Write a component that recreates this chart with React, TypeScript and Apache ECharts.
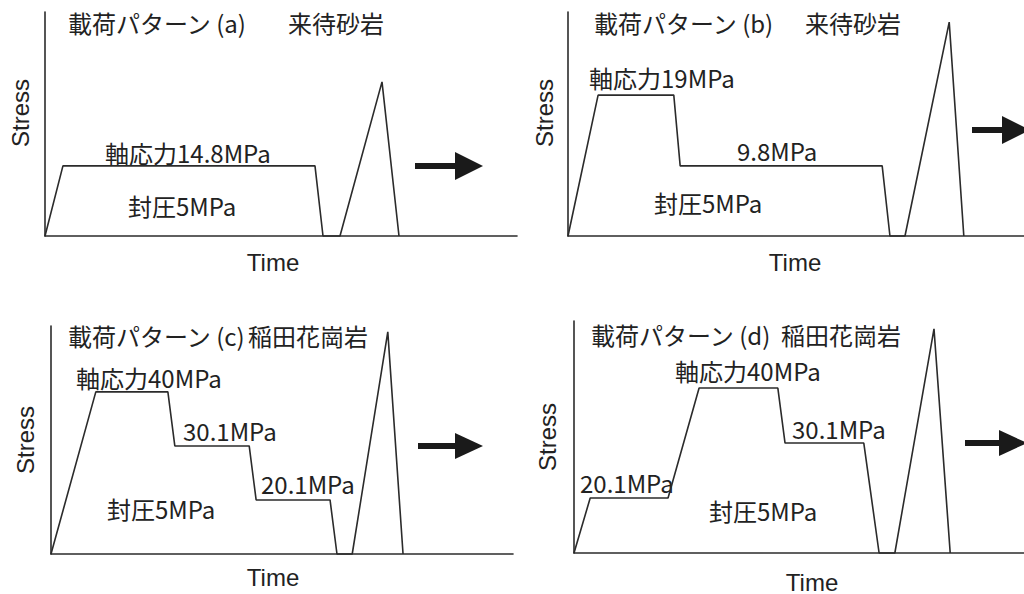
import React, { useEffect, useRef } from "react";
import * as echarts from "echarts";

// Schematic loading patterns (time and stress in relative units, 0-100 of each panel's axis)
const timeA = [0, 3.8, 57.2, 58.9, 62.5, 71.4, 75.0];
const stressA = [0, 31.3, 31.3, 0, 0, 68.8, 0];

const timeB = [0, 6.6, 23.2, 24.6, 68.9, 70.6, 73.9, 83.6, 86.8];
const stressB = [0, 62.9, 62.9, 31.3, 31.3, 0, 0, 95.5, 0];

const timeC = [0, 9.7, 25.3, 26.8, 42.9, 44.4, 60.4, 61.9, 65.2, 72.9, 76.2];
const stressC = [0, 71.1, 71.1, 47.4, 47.4, 23.7, 23.7, 0, 0, 97.4, 0];

const timeD = [0, 3.6, 20.9, 27.8, 45.3, 46.9, 64.4, 67.8, 71.3, 80.0, 83.6];
const stressD = [0, 23.7, 23.7, 71.1, 71.1, 47.4, 47.4, 0, 0, 96.6, 0];

const panelTitles = ["載荷パターン (a)", "載荷パターン (b)", "載荷パターン (c)", "載荷パターン (d)"];
const rockNames = ["来待砂岩", "来待砂岩", "稲田花崗岩", "稲田花崗岩"];
const labelsA = ["軸応力14.8MPa", "封圧5MPa"];
const labelsB = ["軸応力19MPa", "9.8MPa", "封圧5MPa"];
const labelsC = ["軸応力40MPa", "30.1MPa", "20.1MPa", "封圧5MPa"];
const labelsD = ["軸応力40MPa", "30.1MPa", "20.1MPa", "封圧5MPa"];
const axisNameX = "Time";
const axisNameY = "Stress";

const grids = [
  { left: 45, top: 12, width: 472, height: 224 },
  { left: 568, top: 12, width: 456, height: 224 },
  { left: 51, top: 326, width: 462, height: 228 },
  { left: 574, top: 321, width: 450, height: 232 },
];

const LINE = "#2b2b2b";
const JP = '"Noto Sans CJK JP", "Noto Sans", sans-serif';
const LAT = '"Liberation Sans", Arial, sans-serif';

function zip(t: number[], s: number[]) {
  return t.map((v, i) => [v, s[i]]);
}

function jpText(text: string, x: number, y: number, size = 24) {
  return {
    type: "text",
    x,
    y,
    style: { text, fill: "#222", font: `${size}px ${JP}`, align: "left", verticalAlign: "middle" },
  };
}

function latText(text: string, x: number, y: number, rot = 0) {
  return {
    type: "text",
    x,
    y,
    rotation: rot,
    style: { text, fill: "#222", font: `24px ${LAT}`, align: "center", verticalAlign: "middle" },
  };
}

function arrow(x0: number, xh: number, xt: number, y: number, hh: number) {
  return [
    { type: "rect", shape: { x: x0, y: y - 3, width: xh - x0 + 1, height: 6 }, style: { fill: "#1a1a1a" } },
    {
      type: "polygon",
      shape: { points: [[xh, y - hh], [xt, y], [xh, y + hh]] },
      style: { fill: "#1a1a1a" },
    },
  ];
}

export default function App() {
  const ref = useRef<HTMLDivElement>(null);
  useEffect(() => {
    if (!ref.current) return;
    const chart = echarts.init(ref.current, null, { renderer: "svg" });
    const axisCommon = {
      type: "value",
      min: 0,
      max: 100,
      axisLine: { show: true, onZero: false, lineStyle: { color: LINE, width: 1.6 } },
      axisTick: { show: false },
      axisLabel: { show: false },
      splitLine: { show: false },
    };
    const datas = [zip(timeA, stressA), zip(timeB, stressB), zip(timeC, stressC), zip(timeD, stressD)];
    const graphic: any[] = [];
    // titles
    const titlePos = [
      [68, 22, 288],
      [594, 22, 805],
      [68, 335, 248],
      [591, 334, 781],
    ];
    titlePos.forEach((p, i) => {
      graphic.push(jpText(panelTitles[i], p[0], p[1]));
      graphic.push(jpText(rockNames[i], p[2], p[1]));
    });
    // level labels
    const posA = [[105, 152], [128, 205]];
    const posB = [[589, 77], [737, 150], [654, 202]];
    const posC = [[76, 377], [183, 430], [261, 483], [107, 508]];
    const posD = [[675, 370], [792, 428], [580, 482], [709, 510]];
    labelsA.forEach((t, i) => graphic.push(jpText(t, posA[i][0], posA[i][1])));
    labelsB.forEach((t, i) => graphic.push(jpText(t, posB[i][0], posB[i][1])));
    labelsC.forEach((t, i) => graphic.push(jpText(t, posC[i][0], posC[i][1])));
    labelsD.forEach((t, i) => graphic.push(jpText(t, posD[i][0], posD[i][1])));
    // axis names
    const stressPos = [[20, 113], [544, 113], [25, 440], [547, 437]];
    const timePos = [[273, 262], [795, 262], [273, 577], [812, 582]];
    stressPos.forEach((p) => graphic.push(latText(axisNameY, p[0], p[1], Math.PI / 2)));
    timePos.forEach((p) => graphic.push(latText(axisNameX, p[0], p[1])));
    // arrows
    graphic.push(...arrow(415, 455, 483, 166, 14));
    graphic.push(...arrow(972, 1002, 1030, 130, 14));
    graphic.push(...arrow(418, 455, 483, 446, 13));
    graphic.push(...arrow(965, 999, 1027, 443, 13));

    chart.setOption({
      animation: false,
      backgroundColor: "#fff",
      grid: grids.map((g) => ({ ...g, containLabel: false })),
      xAxis: grids.map((_, i) => ({ ...axisCommon, gridIndex: i })),
      yAxis: grids.map((_, i) => ({ ...axisCommon, gridIndex: i })),
      series: datas.map((d, i) => ({
        type: "line",
        xAxisIndex: i,
        yAxisIndex: i,
        data: d,
        showSymbol: false,
        symbol: "none",
        clip: false,
        lineStyle: { color: LINE, width: 1.6 },
      })),
      graphic,
    });
    return () => chart.dispose();
  }, []);
  return (
    <div
      ref={ref}
      style={{ position: "fixed", left: 0, top: 0, width: 1024, height: 594, background: "#fff" }}
    />
  );
}
